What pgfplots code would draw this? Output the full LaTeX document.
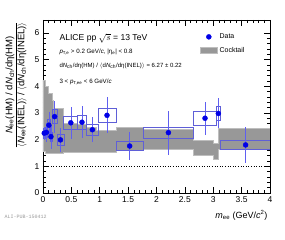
\documentclass[border=0pt]{standalone}
\usepackage{amsmath}
\usepackage{pgfplots}
\pgfplotsset{compat=1.18}
\usepackage{fontspec}
\setmainfont{Liberation Sans}
\newfontfamily\monof{Liberation Mono}
\definecolor{dblue}{RGB}{0,0,230}
\definecolor{eblue}{RGB}{95,95,240}
\definecolor{bblue}{RGB}{95,95,215}
\definecolor{band}{RGB}{152,152,152}
\definecolor{bandedge}{RGB}{190,190,190}
\begin{document}
\begin{tikzpicture}
\path[use as bounding box] (0,0) rectangle (285pt,240pt);
\begin{axis}[
  at={(43pt,47pt)}, anchor=south west,
  scale only axis, width=227pt, height=173pt,
  xmin=0, xmax=4, ymin=0, ymax=6.48,
  xtick={0,0.5,1,1.5,2,2.5,3,3.5,4}, ytick={0,1,2,3,4,5,6},
  minor x tick num=4, minor y tick num=4,
  tick align=inside,
  major tick length=6pt, minor tick length=3pt,
  axis line style={line width=0.7pt},
  every tick/.style={black, line width=0.5pt},
  /pgf/number format/assume math mode=true,
  tick label style={font=\fontsize{8.5}{9}\selectfont},
  xticklabels={0,0.5,1,1.5,2,2.5,3,3.5,4},
  legend style={at={(0.678,0.945)}, anchor=north west, draw=none, fill=none,
    font=\fontsize{7}{8}\selectfont, row sep=3pt},
  legend cell align=left,
  unbounded coords=jump,
]
% cocktail band
\addplot[fill=band, draw=bandedge, line width=0.9pt, forget plot] coordinates {
(0,4.23)(0.05,4.23)(0.05,4.0)(0.1,4.0)(0.1,3.73)(0.16,3.73)(0.16,3.45)(0.19,3.45)(0.19,3.17)(0.36,3.17)(0.36,2.62)(0.60,2.62)(0.60,2.55)(0.77,2.55)(0.77,2.45)(0.95,2.45)(0.95,2.33)(1.29,2.33)(1.29,2.45)(1.77,2.45)(1.77,2.38)(2.65,2.38)(2.65,1.98)(3.0,1.98)(3.0,1.87)(3.1,1.87)(3.1,2.42)(4,2.42)
(4,1.64)(3.1,1.64)(3.1,1.27)(3.0,1.27)(3.0,1.39)(2.65,1.39)(2.65,1.64)(1.77,1.64)(1.77,1.58)(1.29,1.58)(1.29,1.50)(0.36,1.50)(0.36,1.48)(0.05,1.48)(0.05,1.55)(0,1.55)} -- cycle;
% dotted line at 1
\addplot[black, dotted, line width=0.6pt, forget plot] coordinates {(0,1)(4,1)};
% systematic boxes
\addplot[bblue, line width=0.6pt, forget plot] coordinates {
(0.00,2.06)(0.04,2.06)(0.04,2.42)(0.00,2.42)(0.00,2.06)(nan,nan)
(0.04,2.07)(0.08,2.07)(0.08,2.47)(0.04,2.47)(0.04,2.07)(nan,nan)
(0.08,2.32)(0.12,2.32)(0.12,2.76)(0.08,2.76)(0.08,2.32)(nan,nan)
(0.12,1.93)(0.16,1.93)(0.16,2.29)(0.12,2.29)(0.12,1.93)(nan,nan)
(0.165,2.60)(0.25,2.60)(0.25,3.12)(0.165,3.12)(0.165,2.60)(nan,nan)
(0.25,1.80)(0.37,1.80)(0.37,2.18)(0.25,2.18)(0.25,1.80)(nan,nan)
(0.36,2.38)(0.60,2.38)(0.60,2.88)(0.36,2.88)(0.36,2.38)(nan,nan)
(0.605,2.40)(0.757,2.40)(0.757,2.90)(0.605,2.90)(0.605,2.40)(nan,nan)
(0.757,2.15)(0.975,2.15)(0.975,2.59)(0.757,2.59)(0.757,2.15)(nan,nan)
(0.975,2.65)(1.29,2.65)(1.29,3.17)(0.975,3.17)(0.975,2.65)(nan,nan)
(1.29,1.59)(1.77,1.59)(1.77,1.93)(1.29,1.93)(1.29,1.59)(nan,nan)
(1.77,2.06)(2.65,2.06)(2.65,2.46)(1.77,2.46)(1.77,2.06)(nan,nan)
(2.65,2.55)(3.05,2.55)(3.05,3.05)(2.65,3.05)(2.65,2.55)(nan,nan)
(3.05,2.72)(3.13,2.72)(3.13,3.24)(3.05,3.24)(3.05,2.72)(nan,nan)
(3.13,1.62)(4.0,1.62)(4.0,1.98)(3.13,1.98)(3.13,1.62)};
% data
\addplot[only marks, mark=*, mark size=2.5pt, color=dblue, forget plot,
  error bars/.cd, y dir=both, y explicit,
  error bar style={color=eblue, line width=0.6pt}, error mark=none]
  table[x=x, y=y, y error=e] {
x y e
0.022 2.24 0.25
0.062 2.27 0.35
0.104 2.54 0.50
0.140 2.11 0.45
0.205 2.86 0.60
0.308 1.99 0.46
0.490 2.63 0.60
0.687 2.65 0.60
0.870 2.37 0.47
1.128 2.91 0.67
1.527 1.76 0.52
2.210 2.26 0.82
2.855 2.80 0.62
3.090 2.98 0.56
3.570 1.80 0.69
};
\addlegendimage{only marks, mark=*, mark size=2.5pt, color=dblue}
\addlegendentry{Data}
\addlegendimage{area legend, fill=band, draw=bandedge}
\addlegendentry{Cocktail}
\end{axis}
% annotations
\node[anchor=west, font=\fontsize{8.6}{9}\selectfont] at (56pt,202pt) {ALICE pp $\sqrt{s}$ = 13 TeV};
\node[anchor=west, font=\fontsize{6.2}{7}\selectfont] at (56pt,188pt) {\textit{p}\textsubscript{T,e} {\textgreater} 0.2 GeV/\textit{c}, |η\textsubscript{e}| {\textless} 0.8};
\node[anchor=west, font=\fontsize{6}{7}\selectfont] at (56pt,174pt) {d\textit{N}\textsubscript{ch}/dη(HM) / $\langle$d\textit{N}\textsubscript{ch}/dη(INEL)$\rangle$ = 6.27 ± 0.22};
\node[anchor=west, font=\fontsize{6.2}{7}\selectfont] at (56pt,158pt) {3 {\textless} \textit{p}\textsubscript{T,ee} {\textless} 6 GeV/\textit{c}};
\node[rotate=90, font=\fontsize{9.5}{10}\selectfont] at (16pt,155pt)
  {$\dfrac{\mbox{\textit{N}\textsubscript{ee}(HM) / d\textit{N}\textsubscript{ch}/dη(HM)}}{\mbox{$\langle$\textit{N}\textsubscript{ee}(INEL)$\rangle$ / $\langle$d\textit{N}\textsubscript{ch}/dη(INEL)$\rangle$}}$};
\node[anchor=east, font=\fontsize{9}{10}\selectfont] at (271pt,25pt) {\textit{m}\textsubscript{ee} (GeV/\textit{c}\textsuperscript{2})};
\node[anchor=west, font=\monof\fontsize{5}{6}\selectfont, text=black!40] at (1pt,23pt) {ALI-PUB-150412};
\end{tikzpicture}
\end{document}
